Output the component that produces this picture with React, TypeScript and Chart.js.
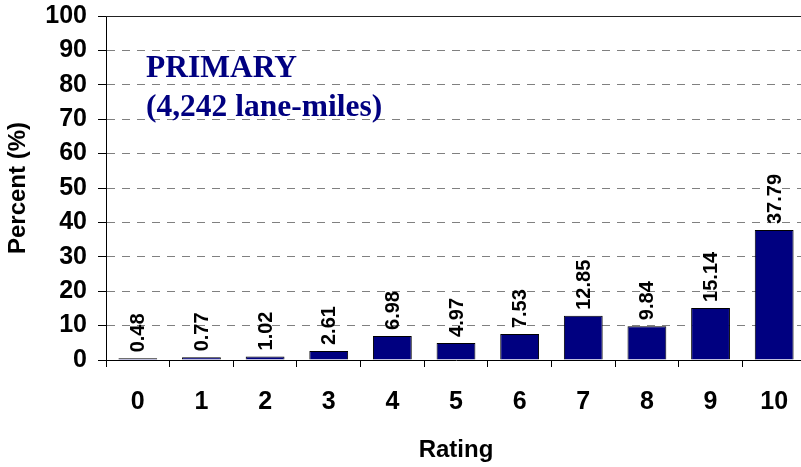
import React, { useEffect, useRef } from "react";
import { Chart, registerables } from "chart.js";

Chart.register(...registerables);

const categories = ["0", "1", "2", "3", "4", "5", "6", "7", "8", "9", "10"];
const percents = [0.48, 0.77, 1.02, 2.61, 6.98, 4.97, 7.53, 12.85, 9.84, 15.14, 37.79];
const annotationLines = ["PRIMARY", "(4,242 lane-miles)"];
const yTitle = "Percent (%)";
const xTitle = "Rating";

const SANS = "'Liberation Sans', Arial, sans-serif";
const SERIF = "'Liberation Serif', 'Times New Roman', serif";

const extrasPlugin = {
  id: "extras",
  afterDatasetsDraw(chart: any) {
    const { ctx, chartArea } = chart;
    // top border
    ctx.save();
    ctx.strokeStyle = "#222";
    ctx.lineWidth = 1;
    ctx.beginPath();
    ctx.moveTo(chartArea.left, chartArea.top + 0.5);
    ctx.lineTo(chartArea.right, chartArea.top + 0.5);
    ctx.stroke();
    ctx.restore();

    // rotated value labels
    const meta = chart.getDatasetMeta(0);
    ctx.save();
    ctx.fillStyle = "#000";
    ctx.font = `bold 20px ${SANS}`;
    ctx.textAlign = "left";
    ctx.textBaseline = "middle";
    meta.data.forEach((bar: any, i: number) => {
      ctx.save();
      ctx.translate(bar.x + 1, bar.y - 6);
      ctx.rotate(-Math.PI / 2);
      ctx.fillText(percents[i].toFixed(2), 0, 0);
      ctx.restore();
    });
    ctx.restore();

    // annotation
    ctx.save();
    ctx.fillStyle = "#000080";
    ctx.font = `bold 31.5px ${SERIF}`;
    ctx.textAlign = "left";
    ctx.textBaseline = "alphabetic";
    const x0 = chartArea.left + 40;
    const yScale = chart.scales.y;
    ctx.fillText(annotationLines[0], x0, yScale.getPixelForValue(82.3));
    ctx.fillText(annotationLines[1], x0, yScale.getPixelForValue(71));
    ctx.restore();
  },
};

export default function App() {
  const ref = useRef<HTMLCanvasElement>(null);
  useEffect(() => {
    if (!ref.current) return;
    const chart = new Chart(ref.current, {
      type: "bar",
      data: {
        labels: categories,
        datasets: [
          {
            data: percents,
            backgroundColor: "#000080",
            borderColor: "#000000",
            borderWidth: 1,
            categoryPercentage: 1,
            barPercentage: 0.61,
          },
        ],
      },
      options: {
        animation: false,
        responsive: true,
        maintainAspectRatio: false,
        layout: { padding: { top: 16, right: 0, left: 0, bottom: 0 } },
        plugins: { legend: { display: false }, tooltip: { enabled: false } },
        scales: {
          x: {
            offset: true,
            grid: {
              offset: true,
              drawOnChartArea: false,
              drawTicks: true,
              tickLength: 7,
              color: "#000",
            },
            border: { display: true, color: "#000", width: 1 },
            ticks: {
              color: "#000",
              font: { family: SANS, size: 25, weight: "bold" },
              padding: 20,
              maxRotation: 0,
            },
            title: {
              display: true,
              text: xTitle,
              color: "#000",
              font: { family: SANS, size: 24, weight: "bold" },
              padding: { top: 0, bottom: 2 },
            },
            afterFit(scale: any) {
              scale.height = 107;
              scale.paddingLeft = 0;
              scale.paddingRight = 0;
            },
          },
          y: {
            min: 0,
            max: 100,
            ticks: {
              stepSize: 10,
              color: "#000",
              font: { family: SANS, size: 25, weight: "bold" },
              padding: 11,
            },
            grid: {
              color: (c: any) => (c.tick && (c.tick.value === 0 || c.tick.value === 100) ? "rgba(0,0,0,0)" : "#808080"),
              tickColor: "#000",
              tickLength: 8,
              tickBorderDash: [],
            } as any,
            border: { display: true, color: "#000", width: 1, dash: [8, 7] } as any,
            title: {
              display: true,
              text: yTitle,
              color: "#000",
              font: { family: SANS, size: 24, weight: "bold" },
              padding: { top: 4, bottom: 0 },
            },
            afterFit(scale: any) {
              scale.width = 106;
              scale.paddingTop = 0;
              scale.paddingBottom = 0;
            },
          },
        },
      },
      plugins: [extrasPlugin],
    });
    return () => chart.destroy();
  }, []);
  return (
    <div style={{ position: "fixed", left: 0, top: 0, width: 806, height: 467 }}>
      <canvas ref={ref} />
    </div>
  );
}
